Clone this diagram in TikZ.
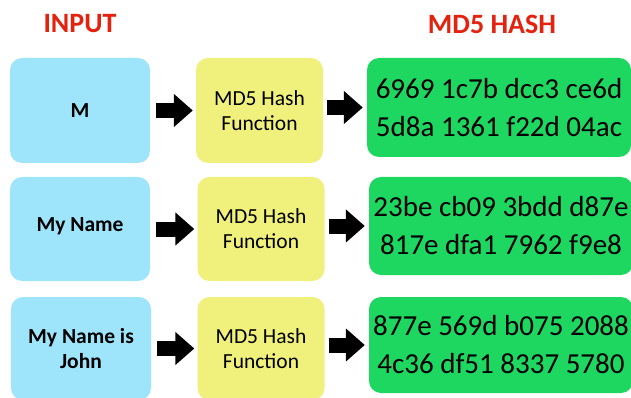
\documentclass[tikz,border=0pt]{standalone}
\usepackage{fontspec}
\setmainfont{Carlito}
\usetikzlibrary{arrows.meta}
\definecolor{titlered}{HTML}{E3220F}
\definecolor{inblue}{HTML}{9EE5FC}
\definecolor{fnyellow}{HTML}{F0F07C}
\definecolor{hashgreen}{HTML}{1ED760}
\tikzset{
  title/.style={font=\fontsize{28}{30}\selectfont\bfseries, text=titlered},
  inbox/.style={fill=inblue, rounded corners=12pt, minimum width=140pt, inner sep=0pt, align=center,
    font=\fontsize{21.5}{25}\selectfont\bfseries},
  fnbox/.style={fill=fnyellow, rounded corners=12pt, minimum width=127pt, inner sep=0pt, align=center,
    font=\fontsize{21.5}{25}\selectfont},
  hashbox/.style={fill=hashgreen, rounded corners=12pt, minimum width=264pt, inner sep=0pt, align=center,
    font=\fontsize{29}{38}\selectfont},
  blockarrow/.style={draw=black, line width=15pt, -{Triangle[width=32pt,length=19pt]}}
}
\begin{document}
\begin{tikzpicture}[x=1pt,y=-1pt]
\useasboundingbox (0,0) rectangle (631,398);
\fill[white] (0,0) rectangle (631,398);

\node[title] (tin) at (80,24) {INPUT};
\node[title] (tout) at (492,24) {MD5 HASH};

% row 1
\node[inbox, minimum height=105pt] (b1) at (80,110.5) {M};
\node[fnbox, minimum height=105pt] (y1) at (259.5,110.5) {MD5 Hash\\Function};
\node[hashbox, minimum height=99pt] (g1) at (499,107.5) {6969 1c7b dcc3 ce6d\\5d8a 1361 f22d 04ac};

% row 2
\node[inbox, minimum height=104pt] (b2) at (80,229) {\raisebox{8pt}{My Name}};
\node[fnbox, minimum height=104pt] (y2) at (261,229) {MD5 Hash\\Function};
\node[hashbox, minimum height=98pt] (g2) at (501,226) {23be cb09 3bdd d87e\\817e dfa1 7962 f9e8};

% row 3
\node[inbox, minimum height=103pt] (b3) at (81,348.5) {My Name is\\John};
\node[fnbox, minimum height=103pt] (y3) at (261,348.5) {MD5 Hash\\Function};
\node[hashbox, minimum height=96pt] (g3) at (501,345) {877e 569d b075 2088\\4c36 df51 8337 5780};

% arrows
\foreach \i in {1,2,3}{
  \draw[blockarrow, shorten <=6pt, shorten >=3pt] (b\i.east) -- (b\i.east -| y\i.west);
  \draw[blockarrow, shorten <=4pt, shorten >=4pt] (g\i.west -| y\i.east) -- (g\i.west);
}
\end{tikzpicture}
\end{document}
